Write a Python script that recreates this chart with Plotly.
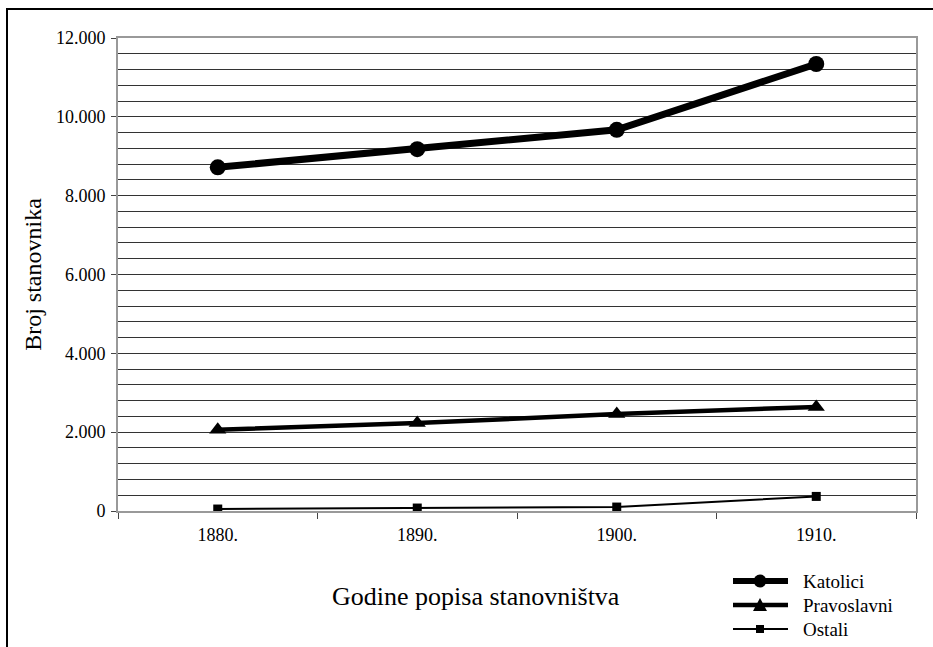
import plotly.graph_objects as go

years = ["1880.", "1890.", "1900.", "1910."]
katolici = [8720, 9180, 9670, 11340]
pravoslavni = [2060, 2230, 2460, 2640]
ostali = [50, 75, 100, 370]
series_names = ["Katolici", "Pravoslavni", "Ostali"]

W, H = 933, 647
ML, MR, MT, MB = 118, 17, 38, 136
PW, PH = W - ML - MR, H - MT - MB
FONT = "Liberation Serif, Times New Roman, serif"


def px(x):
    return (x - ML) / PW


def py(y):
    return (H - MB - y) / PH


fig = go.Figure()
styles = [
    dict(lw=7, sym="circle", ms=16),
    dict(lw=4.5, sym="triangle-up", ms=15),
    dict(lw=2, sym="square", ms=9),
]
for name, vals, st in zip(series_names, [katolici, pravoslavni, ostali], styles):
    fig.add_trace(go.Scatter(
        x=years, y=vals, name=name, mode="lines+markers",
        line=dict(color="black", width=st["lw"]),
        marker=dict(symbol=st["sym"], size=st["ms"], color="black"),
        showlegend=False, hoverinfo="skip",
    ))

shapes = []
# outer frame
shapes.append(dict(type="rect", xref="paper", yref="paper",
                   x0=px(7), x1=1.2, y0=-0.5, y1=py(9),
                   line=dict(color="black", width=2), layer="below"))

# manual legend
leg_rows = [581, 605, 629]
leg_lw = [6, 4.5, 2]
annotations = []
for i, (name, yrow) in enumerate(zip(series_names, leg_rows)):
    shapes.append(dict(type="line", xref="paper", yref="paper",
                       x0=px(733), x1=px(788), y0=py(yrow), y1=py(yrow),
                       line=dict(color="black", width=leg_lw[i])))
    annotations.append(dict(text=name, xref="paper", yref="paper",
                            x=px(801), y=py(yrow), xanchor="left", yanchor="middle",
                            showarrow=False, font=dict(family=FONT, size=19, color="black")))
# legend glyphs
r0 = leg_rows[0]
shapes.append(dict(type="circle", xref="paper", yref="paper",
                   x0=px(753.5), x1=px(766.5), y0=py(r0 + 6.5), y1=py(r0 - 6.5),
                   fillcolor="black", line=dict(color="black", width=0)))
r1 = leg_rows[1]
tri = "M {},{} L {},{} L {},{} Z".format(px(753), py(r1 + 6), px(767), py(r1 + 6), px(760), py(r1 - 7))
shapes.append(dict(type="path", xref="paper", yref="paper", path=tri,
                   fillcolor="black", line=dict(color="black", width=0)))
r2 = leg_rows[2]
shapes.append(dict(type="rect", xref="paper", yref="paper",
                   x0=px(756), x1=px(764), y0=py(r2 + 4), y1=py(r2 - 4),
                   fillcolor="black", line=dict(color="black", width=0)))

annotations.append(dict(text="Godine popisa stanovništva", xref="paper", yref="paper",
                        x=px(476), y=py(596), xanchor="center", yanchor="middle",
                        showarrow=False, font=dict(family=FONT, size=26, color="black")))

fig.update_layout(
    width=W, height=H,
    margin=dict(l=ML, r=MR, t=MT, b=MB, autoexpand=False),
    paper_bgcolor="white", plot_bgcolor="white",
    separators=",.",
    font=dict(family=FONT, color="black"),
    shapes=shapes, annotations=annotations,
    showlegend=False,
)
fig.update_xaxes(
    type="category", range=[-0.5, 3.5],
    showline=True, linecolor="#999999", linewidth=2, mirror=True,
    showgrid=False, ticks="outside", tickson="boundaries",
    ticklen=6, tickcolor="#444444", tickwidth=1,
    tickfont=dict(family=FONT, size=18, color="black"),
    ticklabelstandoff=6,
)
fig.update_yaxes(
    range=[0, 12000], dtick=2000, tickformat=",d",
    showline=True, linecolor="#999999", linewidth=2, mirror=True,
    showgrid=True, gridcolor="#333333", gridwidth=1,
    minor=dict(dtick=400, showgrid=True, gridcolor="#333333", gridwidth=1),
    ticks="outside", ticklen=5, tickcolor="#444444", tickwidth=1,
    tickfont=dict(family=FONT, size=18, color="black"),
    ticklabelstandoff=2,
    zeroline=False,
    title=dict(text="Broj stanovnika", font=dict(family=FONT, size=24, color="black"), standoff=8),
    automargin=False,
)

fig.write_html("out.html", config={"displayModeBar": False})

# remove the default page margin so the figure sits at the window's corner
with open("out.html", encoding="utf-8") as f:
    html = f.read()
html = html.replace("<head>", "<head><style>html,body{margin:0;padding:0;overflow:hidden;}</style>", 1)
with open("out.html", "w", encoding="utf-8") as f:
    f.write(html)
